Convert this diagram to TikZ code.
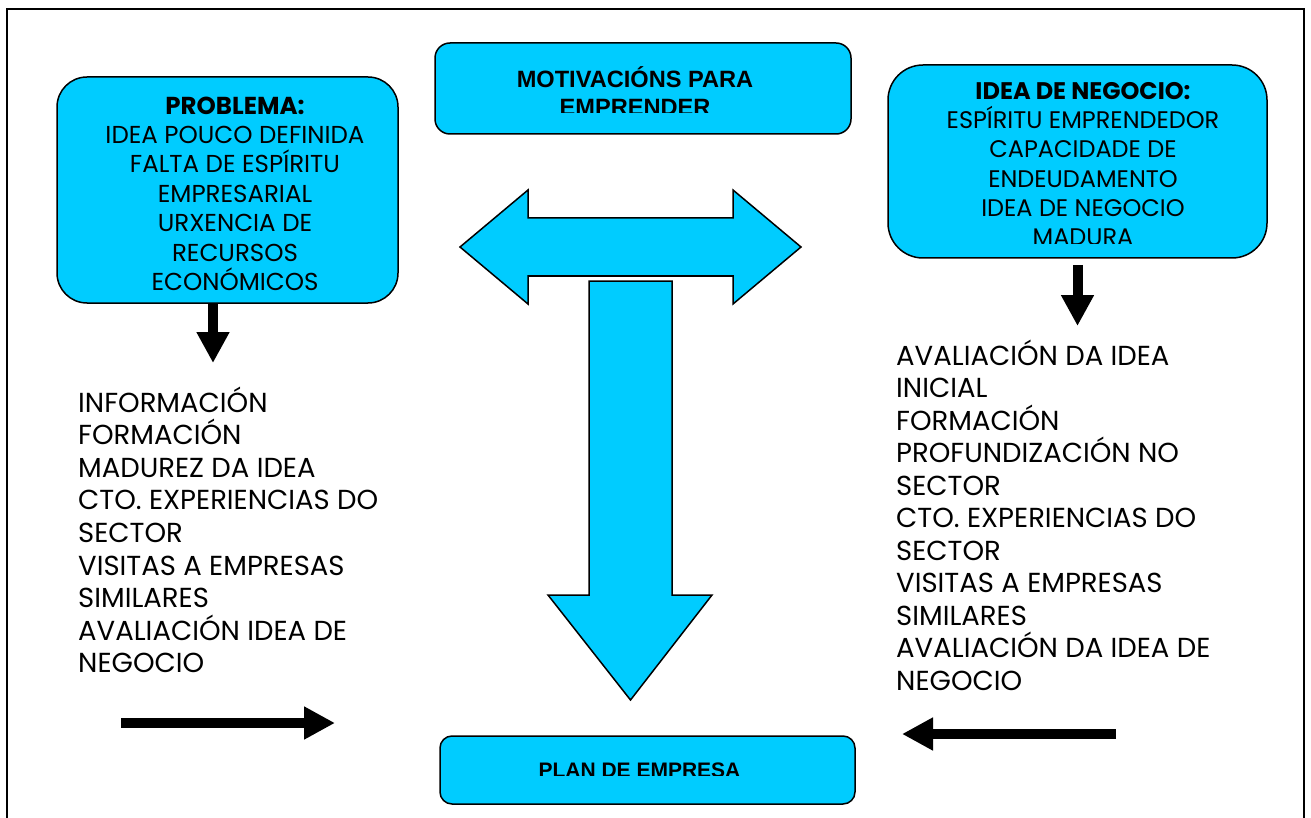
\documentclass[tikz,border=0pt]{standalone}
\usepackage{fontspec}
\setmainfont{Poppins}
\newfontfamily\arialfont{Liberation Sans}
\usetikzlibrary{arrows.meta}
\definecolor{boxblue}{RGB}{0,204,255}
\tikzset{
  bluebox/.style={draw=black, fill=boxblue, line width=1.5pt, inner sep=0pt},
  blueshape/.style={draw=black, fill=boxblue, line width=1.5pt, line join=miter},
  boxtext/.style={align=center, inner sep=0pt, anchor=base, font=\fontsize{24.5}{29.4}\selectfont},
  boxtitle/.style={align=center, inner sep=0pt, anchor=base, font=\arialfont\bfseries\fontsize{23.6}{28}\selectfont},
  listtext/.style={align=left, inner sep=0pt, anchor=base west, font=\fontsize{27.5}{32.6}\selectfont},
  blk/.style={line width=10pt, -{Triangle[length=31pt,width=31pt]}},
  frameline/.style={line width=2pt}
}
\begin{document}
\begin{tikzpicture}[x=1pt,y=-1pt]
\useasboundingbox (0,0) rectangle (1311,818);
% frame
\draw[frameline] (7,818) -- (7,9) -- (1304,9) -- (1304,818);

% boxes (text nodes anchored at the baseline of their last line)
\node[bluebox, minimum width=341pt, minimum height=226pt, rounded corners=30pt] (prob) at (227.5,190) {};
\node[boxtext] (probtext) at (235,290.4) {\textbf{PROBLEMA:}\\IDEA POUCO DEFINIDA\\FALTA DE ESPÍRITU\\EMPRESARIAL\\URXENCIA DE\\RECURSOS\\ECONÓMICOS};

\node[bluebox, minimum width=416pt, minimum height=91pt, rounded corners=15pt] (motiv) at (643,88.5) {};
\begin{scope}
\clip (436,44) rectangle (850,113);
\node[boxtitle] (motivtext) at (635,116) {MOTIVACIÓNS PARA\\EMPRENDER};
\end{scope}

\node[bluebox, minimum width=379pt, minimum height=193pt, rounded corners=35pt] (idea) at (1077.5,161.5) {};
\begin{scope}
\clip (889,66) rectangle (1266,244);
\node[boxtext, font=\fontsize{24}{29.2}\selectfont] (ideatext) at (1083,245.5) {\textbf{IDEA DE NEGOCIO:}\\ESPÍRITU EMPRENDEDOR\\CAPACIDADE DE\\ENDEUDAMENTO\\IDEA DE NEGOCIO\\MADURA};
\end{scope}

\node[bluebox, minimum width=415pt, minimum height=68pt, rounded corners=12pt] (plan) at (647.5,770) {};
\begin{scope}
\clip (441,737) rectangle (854,775);
\node[boxtitle, font=\arialfont\bfseries\fontsize{21}{25}\selectfont] (plantext) at (639.5,777.5) {PLAN DE EMPRESA};
\end{scope}

% big blue arrows
\draw[blueshape] (460,247) -- (528,190) -- (528,218) -- (733,218) -- (733,190) -- (801,247)
  -- (733,304) -- (733,276) -- (528,276) -- (528,304) -- cycle;
\draw[blueshape] (589,281) -- (672,281) -- (672,595) -- (712,595) -- (630.5,700) -- (548,595)
  -- (589,595) -- cycle;

% lists
\node[listtext] (leftlist) at (78,672.8) {INFORMACIÓN\\FORMACIÓN\\MADUREZ DA IDEA\\CTO. EXPERIENCIAS DO\\SECTOR\\VISITAS A EMPRESAS\\SIMILARES\\AVALIACIÓN IDEA DE\\NEGOCIO};
\node[listtext, font=\fontsize{27.5}{32.5}\selectfont] (rightlist) at (896,690) {AVALIACIÓN DA IDEA\\INICIAL\\FORMACIÓN\\PROFUNDIZACIÓN NO\\SECTOR\\CTO. EXPERIENCIAS DO\\SECTOR\\VISITAS A EMPRESAS\\SIMILARES\\AVALIACIÓN DA IDEA DE\\NEGOCIO};

% black arrows
\coordinate (pd) at (213,363);
\draw[blk] (prob.south -| pd) -- (pd);
\coordinate (ia) at (1077.5,265);
\coordinate (ib) at (1077.5,326);
\draw[blk] (ia) -- (ib);
\coordinate (la) at (121,723);
\coordinate (lb) at (335,723);
\draw[blk] (la) -- (lb);
\coordinate (ra) at (1116,734);
\coordinate (rb) at (902,734);
\draw[blk] (ra) -- (rb);
\end{tikzpicture}
\end{document}
